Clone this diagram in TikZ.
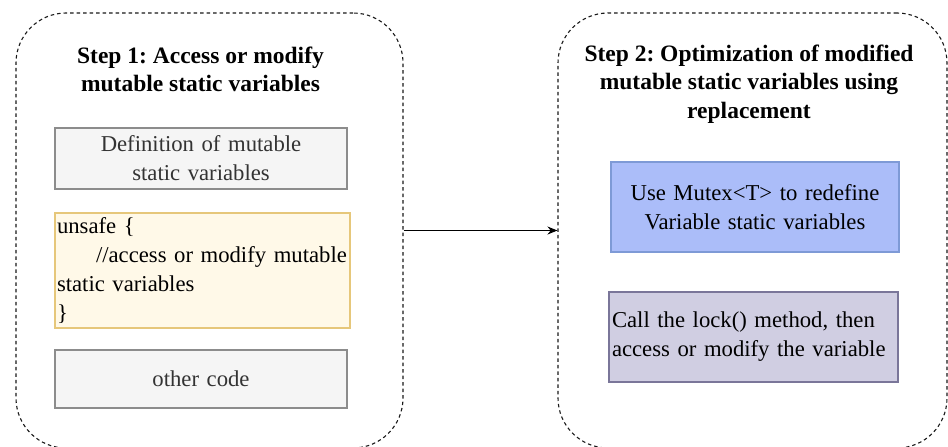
\documentclass[tikz,border=0pt]{standalone}
\usepackage{fontspec}
\setmainfont{Liberation Serif}
\usetikzlibrary{arrows.meta}
\frenchspacing
\definecolor{grayfill}{HTML}{F5F5F5}
\definecolor{graystroke}{HTML}{8C8C8C}
\definecolor{graytext}{HTML}{333333}
\definecolor{yellowfill}{HTML}{FFF9E8}
\definecolor{yellowstroke}{HTML}{E6C77A}
\definecolor{bluefill}{HTML}{ABBDF9}
\definecolor{bluestroke}{HTML}{7E9AD6}
\definecolor{purplefill}{HTML}{D0CEE2}
\definecolor{purplestroke}{HTML}{7A7699}
\tikzset{
  container/.style={draw=black!90, line width=1.1pt, dash pattern=on 3.5pt off 3pt,
    rounded corners=50pt, inner sep=0pt},
  steptitle/.style={font=\bfseries\fontsize{23.5}{28.5}\selectfont, align=center, inner sep=0pt},
  codebox/.style={line width=1.3pt, inner sep=0pt,
    font=\fontsize{22.7}{29}\selectfont},
  graybox/.style={codebox, draw=graystroke, fill=grayfill, text=graytext, align=center},
  yellowbox/.style={codebox, draw=yellowstroke, fill=yellowfill, align=left},
  bluebox/.style={codebox, draw=bluestroke, fill=bluefill, align=center},
  purplebox/.style={codebox, draw=purplestroke, fill=purplefill, align=left},
}
\begin{document}
\begin{tikzpicture}[x=1pt,y=-1pt]
\useasboundingbox[fill=white] (0,0) rectangle (948,447);

% dashed step containers
\node[container, minimum width=387pt, minimum height=435pt] (c1) at (209.5,230.5) {};
\node[container, minimum width=389pt, minimum height=435pt] (c2) at (752.5,230.5) {};

% step titles
\node[steptitle] (t1) at (200.5,69.5) {Step 1: Access or modify\\mutable static variables};
\node[steptitle] (t2) at (749,84) {Step 2: Optimization of modified\\mutable static variables using\\replacement};

% step 1 contents
\node[graybox, minimum width=292pt, minimum height=61pt, text width=286pt] (def) at (201,158.5)
  {Definition of mutable\\static variables};
\node[yellowbox, minimum width=295pt, minimum height=115pt, text width=291pt] (unsafe) at (202.5,270.5)
  {unsafe \{\\\hspace*{39pt}//access or modify mutable\\static variables\\\}};
\node[graybox, minimum width=292pt, minimum height=58pt, text width=286pt] (other) at (201,379)
  {other code};

% step 2 contents
\node[bluebox, minimum width=288pt, minimum height=90pt, text width=282pt] (mutex) at (755,207)
  {Use Mutex<T> to redefine\\Variable static variables};
\node[purplebox, minimum width=289pt, minimum height=90pt, text width=283pt] (lock) at (753.5,337)
  {Call the lock() method, then\\access or modify the variable};

% transition between the steps
\draw[line width=1pt, -{Stealth[length=10pt,width=8pt]}] (c1.east) -- (c2.west);
\end{tikzpicture}
\end{document}
